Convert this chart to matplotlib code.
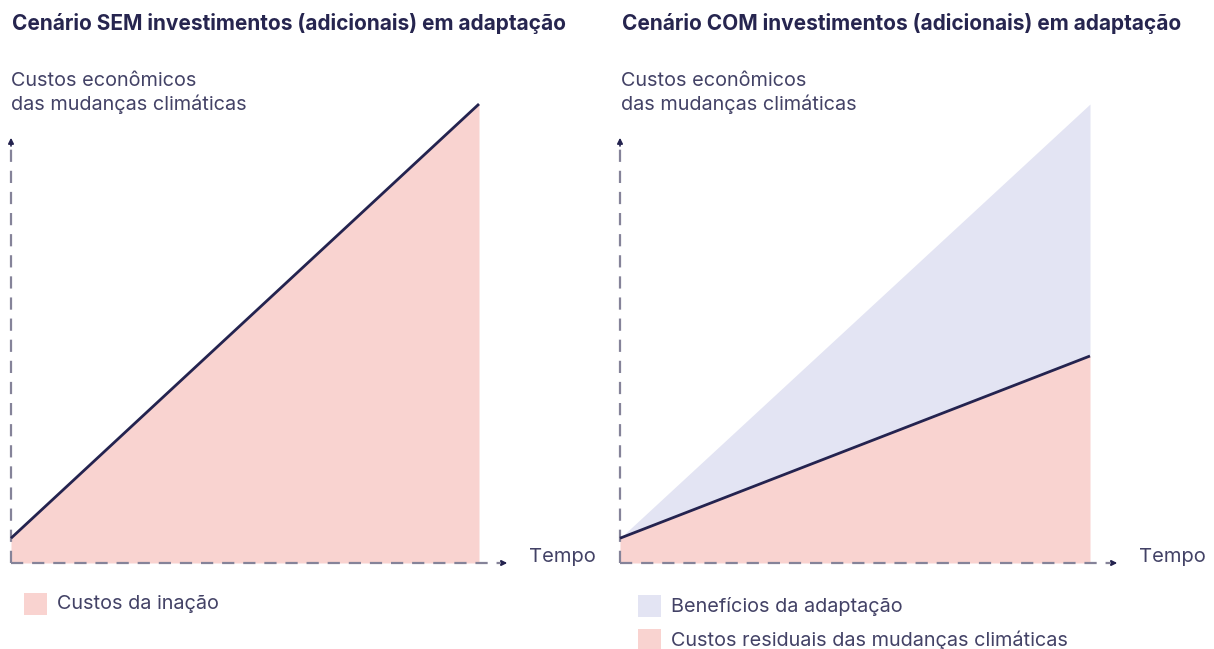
import matplotlib.pyplot as plt

# dados (tempo normalizado, custos normalizados)
tempo = [0, 1]
custos_inacao = [0.054, 1.0]
custos_total_com = [0.054, 1.0]
custos_residuais = [0.054, 0.451]

titulos = ['Cenário SEM investimentos (adicionais) em adaptação',
           'Cenário COM investimentos (adicionais) em adaptação']
rotulo_y = 'Custos econômicos\ndas mudanças climáticas'
rotulo_x = 'Tempo'

ROSA = '#f9d3d0'
LILAS = '#e3e4f3'
AZUL = '#24234f'
TRACO = '#858399'
TEXTO = '#434266'

W, H = 1214, 649
plt.rcParams['font.family'] = ['Inter', 'DejaVu Sans']

fig = plt.figure(figsize=(W / 100, H / 100), dpi=100)


def fx(x):
    return x / W


def fy(y):
    return 1 - y / H


def painel(x0, x1_data, x_end, top=100, bottom=563, y1_data=104):
    # eixo em pixels: x0 -> tempo 0, x1_data -> tempo 1
    ax = fig.add_axes([fx(x0), fy(bottom), (x_end - x0) / W, (bottom - top) / H])
    ax.set_xlim(0, (x_end - x0) / (x1_data - x0))
    ax.set_ylim(0, (bottom - top) / (bottom - y1_data))
    ax.axis('off')
    return ax


def eixos(ax, x_arrow, y_arrow):
    ax.plot([0, x_arrow - 0.02], [0, 0], color=TRACO, lw=1.6, ls=(0, (5.5, 4)), clip_on=False, zorder=4)
    ax.plot([0, 0], [0, y_arrow - 0.03], color=TRACO, lw=1.6, ls=(0, (5.5, 4)), clip_on=False, zorder=4)
    ax.annotate('', xy=(x_arrow, 0), xytext=(x_arrow - 0.02, 0),
                arrowprops=dict(arrowstyle='-|>', color=AZUL, lw=1.2, mutation_scale=8), annotation_clip=False)
    ax.annotate('', xy=(0, y_arrow), xytext=(0, y_arrow - 0.03),
                arrowprops=dict(arrowstyle='-|>', color=AZUL, lw=1.2, mutation_scale=8), annotation_clip=False)


# painel esquerdo
ax1 = painel(11, 479, 520)
ax1.fill_between(tempo, 0, custos_inacao, color=ROSA, lw=0, zorder=1)
ax1.plot(tempo, custos_inacao, color=AZUL, lw=2, solid_capstyle='butt', zorder=5, clip_on=False)
eixos(ax1, (510 - 11) / 468, (563 - 135) / 459)

# painel direito
ax2 = painel(620, 1090, 1130)
ax2.fill_between(tempo, custos_residuais, custos_total_com, color=LILAS, lw=0, zorder=1)
ax2.fill_between(tempo, 0, custos_residuais, color=ROSA, lw=0, zorder=1)
ax2.plot(tempo, custos_residuais, color=AZUL, lw=2, solid_capstyle='butt', zorder=5, clip_on=False)
eixos(ax2, (1120 - 620) / 470, (563 - 135) / 459)

# textos
for x0, titulo in zip([12, 622], titulos):
    fig.text(fx(x0), fy(24), titulo, fontsize=15, fontweight='bold', color='#26254f', va='center', ha='left')
    fig.text(fx(x0 - 1), fy(93), rotulo_y, fontsize=14.3, color=TEXTO,
             va='center', ha='left', linespacing=1.3)
for x0 in [529, 1139]:
    fig.text(fx(x0), fy(557), rotulo_x, fontsize=14.5, color=TEXTO, va='center', ha='left')

# legendas
legendas = [(24, 604, ROSA, 'Custos da inação'),
            (638, 606, LILAS, 'Benefícios da adaptação'),
            (638, 640, ROSA, 'Custos residuais das mudanças climáticas')]
for x0, yc, cor, txt in legendas:
    fig.patches.append(plt.Rectangle((fx(x0), fy(yc + 11)), 23 / W, 22 / H, transform=fig.transFigure,
                                     color=cor, lw=0))
    fig.text(fx(x0 + 33), fy(yc), txt, fontsize=14.3, color=TEXTO, va='center', ha='left')

fig.savefig('out.png', dpi=100)
